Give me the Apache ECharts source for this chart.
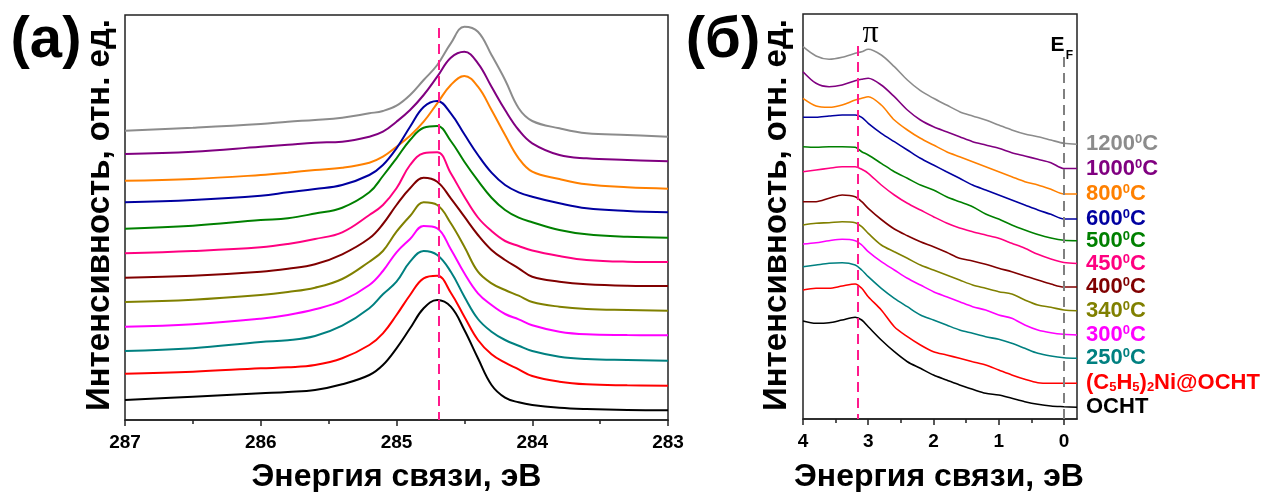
<!DOCTYPE html>
<html>
<head>
<meta charset="utf-8">
<title>C 1s и валентная зона</title>
<script src="https://cdn.jsdelivr.net/npm/echarts@6/dist/echarts.min.js"></script>
<style>
  html, body { margin: 0; padding: 0; background: #fff; }
  #chart { width: 1264px; height: 492px; }
</style>
</head>
<body>
<div id="chart"></div>
<script>
// панель (а): энергия связи, эВ
const energyA = [287, 286.5, 286, 285.8, 285.6, 285.4, 285.2, 285.1, 285.0, 284.9, 284.8, 284.7, 284.6, 284.5, 284.4, 284.3, 284.2, 284.1, 284.0, 283.8, 283.6, 283.3, 283.0];
// интенсивность (отн. ед., со сдвигом), сверху вниз
const a1200 = [28.93, 29.23, 29.6, 29.83, 30.0, 30.23, 30.67, 30.9, 31.43, 32.5, 34.0, 35.5, 37.67, 39.33, 38.83, 36.5, 34.0, 31.17, 29.9, 29.17, 28.67, 28.5, 28.33];
const a1000 = [26.6, 26.83, 27.33, 27.53, 27.73, 27.83, 28.33, 28.83, 29.83, 31.0, 32.5, 34.33, 36.23, 36.83, 35.67, 33.33, 31.0, 29.0, 27.67, 26.5, 26.17, 26.0, 25.87];
const a800 = [23.93, 24.1, 24.5, 24.73, 25.0, 25.23, 25.73, 26.33, 27.33, 28.43, 29.83, 31.67, 33.5, 34.4, 33.33, 31.0, 28.5, 26.17, 24.83, 24.1, 23.57, 23.27, 23.13];
const a600 = [21.77, 22.0, 22.43, 22.77, 23.1, 23.5, 24.5, 25.5, 27.17, 29.33, 31.3, 31.9, 30.67, 28.57, 26.5, 24.73, 23.5, 22.77, 22.33, 21.67, 21.17, 20.9, 20.77];
const a500 = [19.13, 19.43, 20.0, 20.17, 20.65, 21.23, 22.77, 24.4, 26.17, 28.0, 29.23, 29.4, 27.9, 25.83, 23.93, 22.23, 21.0, 20.23, 19.77, 19.0, 18.57, 18.33, 18.23];
const a450 = [16.67, 16.9, 17.27, 17.6, 18.1, 18.77, 20.5, 21.5, 23.17, 25.5, 26.67, 26.77, 24.67, 22.33, 20.25, 18.9, 17.9, 17.4, 16.95, 16.4, 16.0, 15.83, 15.8];
const a400 = [14.23, 14.43, 14.83, 15.13, 15.57, 16.57, 18.17, 19.6, 21.5, 23.17, 24.23, 23.83, 22.17, 20.33, 18.5, 17.0, 16.0, 15.17, 14.33, 13.83, 13.57, 13.43, 13.4];
const a340 = [11.8, 12.03, 12.5, 12.8, 13.23, 14.1, 15.83, 16.9, 18.83, 20.4, 21.77, 21.5, 19.67, 17.33, 14.83, 13.67, 13.0, 12.43, 11.8, 11.33, 11.1, 11.0, 10.93];
const a300 = [9.33, 9.57, 10.13, 10.5, 11.07, 11.93, 13.5, 14.9, 16.77, 18.1, 19.4, 19.17, 17.07, 14.67, 12.67, 11.5, 10.6, 10.07, 9.47, 8.83, 8.57, 8.5, 8.47];
const a250 = [6.9, 7.17, 7.8, 7.97, 8.4, 9.43, 11.17, 12.57, 13.83, 15.83, 16.9, 16.5, 14.83, 12.33, 10.1, 8.83, 8.0, 7.43, 6.9, 6.33, 6.1, 6.0, 5.93];
const aNi = [4.63, 4.83, 5.17, 5.27, 5.5, 6.17, 7.5, 8.67, 10.5, 12.5, 14.17, 14.43, 12.73, 10.33, 8.0, 6.57, 5.73, 5.07, 4.4, 3.83, 3.57, 3.47, 3.43];
const aOCHT = [2.0, 2.33, 2.67, 2.8, 3.0, 3.57, 4.5, 5.5, 7.17, 9.17, 11.17, 12.0, 11.33, 9.0, 6.17, 3.5, 2.23, 1.77, 1.5, 1.23, 1.1, 1.0, 0.97];

// панель (б): энергия связи, эВ
const energyB = [4.0, 3.8, 3.6, 3.4, 3.2, 3.1, 3.0, 2.8, 2.6, 2.4, 2.2, 2.0, 1.8, 1.6, 1.4, 1.2, 1.0, 0.8, 0.6, 0.4, 0.2, 0.0, -0.2];
const b1200 = [37.23, 36.3, 35.97, 36.17, 36.57, 36.73, 36.97, 36.4, 35.23, 33.9, 32.83, 32.07, 31.4, 30.73, 30.3, 29.9, 29.4, 28.9, 28.5, 28.23, 27.9, 27.57, 27.47];
const b1000 = [34.73, 33.57, 33.23, 33.4, 33.83, 33.97, 34.07, 33.4, 32.23, 30.9, 29.9, 29.23, 28.73, 28.23, 27.73, 27.4, 27.07, 26.63, 26.3, 25.97, 25.63, 25.05, 25.05];
const b800 = [32.07, 31.3, 31.17, 31.4, 31.9, 32.07, 32.23, 31.4, 29.9, 28.9, 28.07, 27.4, 26.73, 26.23, 25.73, 25.23, 24.73, 24.23, 23.73, 23.4, 22.97, 22.5, 22.5];
const b600 = [30.17, 30.17, 30.3, 30.4, 30.4, 30.17, 29.57, 28.57, 27.73, 26.9, 26.07, 25.4, 24.73, 24.07, 23.4, 22.9, 22.4, 21.9, 21.4, 20.9, 20.47, 20.0, 20.0];
const b500 = [27.23, 27.17, 27.23, 27.23, 27.17, 26.73, 26.4, 25.57, 24.73, 24.07, 23.4, 22.9, 22.23, 21.73, 21.23, 20.5, 20.0, 19.4, 18.9, 18.45, 18.1, 17.87, 17.83];
const b450 = [24.73, 24.9, 25.07, 25.23, 25.23, 24.97, 24.57, 23.4, 22.4, 21.57, 20.9, 20.23, 19.6, 19.1, 18.73, 18.4, 18.07, 17.57, 17.07, 16.47, 16.0, 15.65, 15.55];
const b400 = [21.73, 21.73, 22.07, 22.4, 22.23, 21.73, 21.07, 19.95, 19.0, 18.33, 17.73, 17.23, 16.67, 16.07, 15.8, 15.47, 15.07, 14.73, 14.3, 13.9, 13.5, 13.2, 13.2];
const b340 = [19.4, 19.57, 19.63, 19.73, 19.63, 19.23, 18.57, 17.4, 16.73, 16.07, 15.4, 14.9, 14.4, 13.9, 13.4, 13.07, 12.73, 12.5, 11.9, 11.4, 11.17, 10.9, 10.83];
const b300 = [17.5, 17.63, 17.83, 17.97, 17.83, 17.4, 16.73, 15.73, 14.9, 14.07, 13.4, 12.73, 12.23, 11.73, 11.23, 10.9, 10.4, 10.07, 9.4, 8.9, 8.63, 8.47, 8.4];
const b250 = [15.23, 15.4, 15.57, 15.63, 15.4, 14.9, 14.23, 13.07, 12.07, 11.23, 10.4, 9.9, 9.4, 8.9, 8.57, 8.23, 7.97, 7.57, 7.07, 6.57, 6.3, 6.13, 6.07];
const bNi = [12.9, 13.07, 13.07, 13.3, 13.5, 13.07, 12.23, 10.9, 9.23, 8.23, 7.4, 6.73, 6.4, 6.07, 5.73, 5.4, 4.9, 4.4, 3.97, 3.63, 3.57, 3.57, 3.57];
const bOCHT = [9.8, 9.57, 9.63, 9.9, 10.17, 9.9, 9.23, 7.9, 6.73, 5.73, 5.07, 4.4, 3.9, 3.4, 2.97, 2.57, 2.4, 2.07, 1.73, 1.47, 1.3, 1.23, 1.17];

// подписи образцов (сверху вниз)
const sampleLabels = ['1200{s|0}C', '1000{s|0}C', '800{s|0}C', '600{s|0}C', '500{s|0}C', '450{s|0}C', '400{s|0}C', '340{s|0}C', '300{s|0}C', '250{s|0}C', '(C{d|5}H{d|5}){d|2}Ni@OCHT', 'OCHT'];
const colors = ['#8c8c8c', '#800080', '#ff8000', '#0000a0', '#008000', '#ff0080', '#800000', '#808000', '#ff00ff', '#008080', '#ff0000', '#000000'];

// вертикальные линии: положение и верхний край
const peakA = 284.69, peakATop = 39.2;
const piB = 3.16, piBTop = 37.3;
const fermi = 0, fermiTop = 36.2;

const seriesA = [a1200, a1000, a800, a600, a500, a450, a400, a340, a300, a250, aNi, aOCHT];
const seriesB = [b1200, b1000, b800, b600, b500, b450, b400, b340, b300, b250, bNi, bOCHT];

const FONT = '"Liberation Sans", Arial, Helvetica, sans-serif';
const AXIS = '#222';

const chart = echarts.init(document.getElementById('chart'));

function vline(x, top, color) {
  return [{ coord: [x, top], lineStyle: { color: color } }, { coord: [x, 0] }];
}

let series = [];
seriesA.forEach((vals, i) => {
  series.push({
    type: 'line',
    xAxisIndex: 0,
    yAxisIndex: 0,
    data: energyA.map((e, k) => [e, vals[k]]),
    smooth: 0.4,
    showSymbol: false,
    lineStyle: { color: colors[i], width: 2 },
    markLine: i === 0 ? {
      silent: true,
      symbol: 'none',
      label: { show: false },
      lineStyle: { type: [10, 6], width: 2 },
      data: [vline(peakA, peakATop, '#ff1a8c')]
    } : undefined
  });
});
seriesB.forEach((vals, i) => {
  series.push({
    type: 'line',
    xAxisIndex: 1,
    yAxisIndex: 1,
    data: energyB.map((e, k) => [e, vals[k]]),
    smooth: 0.3,
    showSymbol: false,
    lineStyle: { color: colors[i], width: 1.6 },
    endLabel: {
      show: true,
      align: 'left',
      distance: -9,
      formatter: () => sampleLabels[i],
      color: colors[i],
      fontSize: 22,
      fontWeight: 'bold',
      fontFamily: FONT,
      lineHeight: 22,
      rich: {
        s: { fontSize: 13, fontWeight: 'bold', fontFamily: FONT, color: colors[i], verticalAlign: 'top', lineHeight: 22 },
        d: { fontSize: 13, fontWeight: 'bold', fontFamily: FONT, color: colors[i], verticalAlign: 'bottom', lineHeight: 22 }
      }
    },
    markLine: i === 0 ? {
      silent: true,
      symbol: 'none',
      label: { show: false },
      lineStyle: { type: [10, 6], width: 2 },
      data: [vline(piB, piBTop, '#ff1a8c'), vline(fermi, fermiTop, '#808080')]
    } : undefined
  });
});

const tickStyle = { color: AXIS, width: 1.5 };
const labelStyle = { color: '#000', fontSize: 19, fontWeight: 'bold', fontFamily: FONT, margin: 13 };

function txt(text, x, y, size, extra) {
  return Object.assign({
    type: 'text',
    x: x,
    y: y,
    style: {
      text: text,
      fill: '#000',
      fontSize: size,
      fontWeight: 'bold',
      fontFamily: FONT,
      textAlign: 'center',
      textVerticalAlign: 'middle',
      align: 'center',
      verticalAlign: 'middle'
    }
  }, extra || {});
}

chart.setOption({
  animation: false,
  backgroundColor: '#fff',
  grid: [
    { left: 125, right: 596, top: 15, bottom: 72, show: true, borderColor: AXIS, borderWidth: 1.5 },
    { left: 803, right: 187, top: 14, bottom: 73, show: true, borderColor: AXIS, borderWidth: 1.5 }
  ],
  xAxis: [
    {
      gridIndex: 0, type: 'value', min: 283, max: 287, interval: 1, inverse: true,
      axisLine: { show: true, onZero: false, lineStyle: tickStyle },
      axisTick: { show: true, length: 6, lineStyle: tickStyle },
      minorTick: { show: true, splitNumber: 2, length: 4, lineStyle: tickStyle },
      axisLabel: labelStyle,
      splitLine: { show: false }, minorSplitLine: { show: false }
    },
    {
      gridIndex: 1, type: 'value', min: -0.2, max: 4, inverse: true, position: 'bottom',
      axisLine: { show: true, onZero: false, lineStyle: tickStyle },
      axisTick: { show: true, length: 6, lineStyle: tickStyle, customValues: [0, 1, 2, 3, 4] },
      axisLabel: Object.assign({ customValues: [0, 1, 2, 3, 4] }, labelStyle),
      splitLine: { show: false }
    },
    {
      gridIndex: 1, type: 'value', min: -0.2, max: 4, inverse: true, position: 'bottom',
      axisLine: { show: false },
      axisTick: { show: true, length: 4, lineStyle: tickStyle, customValues: [0.5, 1.5, 2.5, 3.5] },
      axisLabel: { show: false },
      splitLine: { show: false }
    }
  ],
  yAxis: [
    { gridIndex: 0, type: 'value', min: 0, max: 40.5, show: false, splitLine: { show: false } },
    { gridIndex: 1, type: 'value', min: 0, max: 40.5, show: false, splitLine: { show: false } }
  ],
  series: series,
  graphic: [
    txt('(а)', 46, 41, 58),
    txt('(б)', 723, 41, 58),
    txt('Интенсивность, отн. ед.', 100, 215, 33, { rotation: Math.PI / 2 }),
    txt('Интенсивность, отн. ед.', 777, 215, 33, { rotation: Math.PI / 2 }),
    txt('Энергия связи, эВ', 396.5, 477, 32),
    txt('Энергия связи, эВ', 939, 477, 32),
    {
      type: 'text', x: 870.5, y: 34,
      style: { text: 'π', fill: '#000', fontSize: 32, fontFamily: '"Liberation Serif", "DejaVu Serif", serif',
        textAlign: 'center', textVerticalAlign: 'middle', align: 'center', verticalAlign: 'middle' }
    },
    txt('E', 1057.5, 45, 21),
    txt('F', 1069.5, 55.5, 12)
  ]
});
</script>
</body>
</html>
